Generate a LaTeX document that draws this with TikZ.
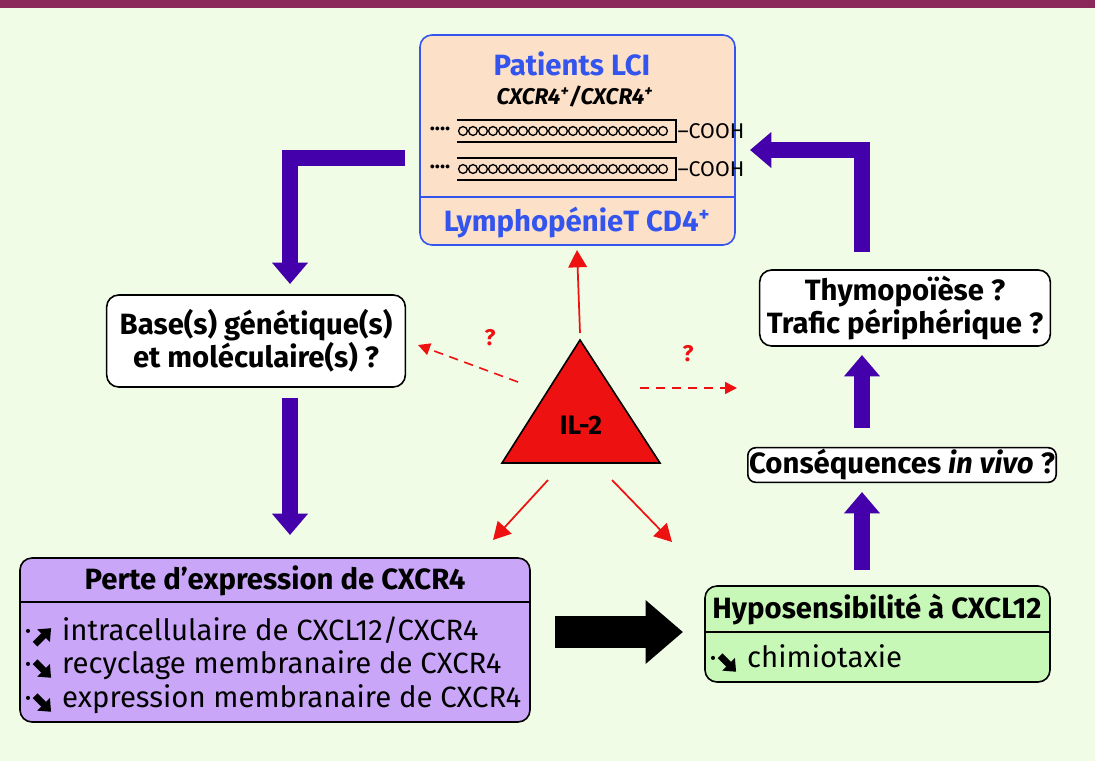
\documentclass[tikz,border=0pt]{standalone}
\usepackage{fontspec}
\setmainfont{Fira Sans}
\usetikzlibrary{arrows.meta}
\definecolor{bg}{HTML}{F0FCE6}
\definecolor{bar}{HTML}{8B2A5A}
\definecolor{peach}{HTML}{FCE0C8}
\definecolor{bblue}{HTML}{3355EE}
\definecolor{purp}{HTML}{4400AA}
\definecolor{lilac}{HTML}{C9A6F8}
\definecolor{lgreen}{HTML}{C8F8B8}
\definecolor{tred}{HTML}{EE1111}
\newcommand{\myup}{\tikz[baseline=-4pt,x=1pt,y=1pt]\draw[line width=5pt,-{Triangle[width=13pt,length=8pt]}] (0,-7)--(12,5);}
\newcommand{\mydn}{\tikz[baseline=-4pt,x=1pt,y=1pt]\draw[line width=5pt,-{Triangle[width=13pt,length=8pt]}] (0,5)--(12,-7);}
\begin{document}
\begin{tikzpicture}[x=0.75pt,y=-0.75pt,
  box/.style={draw,line width=1.2pt,rounded corners=9pt},
  lab/.style={font=\fontsize{22}{25}\selectfont\bfseries,align=center},
  txt/.style={font=\fontsize{22}{25}\selectfont,anchor=west},
  big/.style={purp,line width=12pt,-{Triangle[width=26pt,length=16pt]}},
  red/.style={tred,line width=1.3pt,-{Triangle[width=14pt,length=13pt]}},
  dred/.style={tred,line width=1.2pt,dash pattern=on 7pt off 5pt,-{Triangle[width=9pt,length=9pt]}}]
\fill[bg] (0,0) rectangle (1095,761);
\useasboundingbox (0,0) rectangle (1095,761);
\fill[bar] (0,0) rectangle (1095,8);
% top box
\draw[box,bblue,fill=peach] (420,35) rectangle (735,245);
\draw[bblue,line width=1.2pt] (420,197)--(735,197);
\node[lab,bblue,font=\fontsize{22}{24}\selectfont\bfseries] (pat) at (572,64) {Patients LCI};
\node[lab,font=\fontsize{17}{20}\selectfont\bfseries\itshape] (cx) at (575,97) {CXCR4\textsuperscript{+}/CXCR4\textsuperscript{+}};
\foreach \yy/\nm in {131/c1,169/c2}{
  \draw[line width=1pt] (457,\yy-11)--(676,\yy-11)--(676,\yy+11)--(457,\yy+11);
  \foreach \i in {0,...,20} \draw[line width=1pt] (463+\i*10,\yy) circle[radius=4.4];
  \node[font=\fontsize{16}{16}\selectfont\bfseries,anchor=east] at (455,\yy) {····};
  \node[font=\fontsize{16}{18}\selectfont,anchor=west,inner sep=1pt] (\nm) at (676,\yy) {–COOH};
}
\node[lab,bblue] (lym) at (577,223) {LymphopénieT CD4\textsuperscript{+}};
% left box
\node[box,fill=white,lab,minimum width=224pt,minimum height=69pt] (base) at (256,341) {Base(s) génétique(s)\\et moléculaire(s) ?};
% right boxes
\node[box,fill=white,lab,minimum width=218pt,minimum height=57pt] (thy) at (905,308) {Thymopoïèse ?\\Trafic périphérique ?};
\node[box,fill=white,lab,minimum width=231pt,minimum height=26pt,inner sep=1pt,rounded corners=6pt] (cons) at (902,465) {Conséquences \textit{in vivo} ?};
% perte box
\draw[box,fill=lilac] (20,558) rectangle (530,722);
\draw[line width=1.2pt] (20,602)--(530,602);
\node[lab] (perte) at (275,581) {Perte d’expression de CXCR4};
\node[txt] (p1) at (20,632) {·\myup\ intracellulaire de CXCL12/CXCR4};
\node[txt] (p2) at (20,666) {·\mydn\ recyclage membranaire de CXCR4};
\node[txt] (p3) at (20,700) {·\mydn\ expression membranaire de CXCR4};
% hypo box
\draw[box,fill=lgreen] (705,586) rectangle (1050,682);
\draw[line width=1.2pt] (705,632)--(1050,632);
\node[lab] (hypo) at (877,609) {Hyposensibilité à CXCL12};
\node[txt] (h1) at (705,660) {·\mydn\ chimiotaxie};
% triangle
\draw[line width=1.2pt,fill=tred] (580,340)--(660,463)--(502,463)--cycle;
\node[lab,font=\fontsize{20}{22}\selectfont\bfseries] (il) at (581,425) {IL-2};
\coordinate (tA) at (580,333);
\draw[red] (tA)--(lym.south|-0,250);
\coordinate (tL) at (548,480); \coordinate (eL) at (493,540);
\coordinate (tR) at (612,480); \coordinate (eR) at (672,542);
\draw[red] (tL)--(eL);
\draw[red] (tR)--(eR);
\coordinate (dL) at (518,382); \coordinate (dLe) at (418,345);
\coordinate (dR) at (640,388); \coordinate (dRe) at (737,388);
\draw[dred] (dL)--(dLe);
\draw[dred] (dR)--(dRe);
\node[tred,font=\fontsize{17}{18}\selectfont\bfseries] (q1) at (490,338) {?};
\node[tred,font=\fontsize{17}{18}\selectfont\bfseries] (q2) at (688,354) {?};
% purple arrows
\coordinate (a1) at (405,158); \coordinate (a1b) at (290,158);
\draw[big] (a1)--(a1b)--(290,284);
\draw[big] (290,398)--(290,535);
\draw[big] (862,252)--(862,150)--(750,150);
\draw[big] (862,428)--(862,355);
\draw[big] (862,570)--(862,492);
% black arrow
\draw[line width=24pt,-{Triangle[width=46pt,length=28pt]}] (555,632)--(683,632);
\end{tikzpicture}
\end{document}
